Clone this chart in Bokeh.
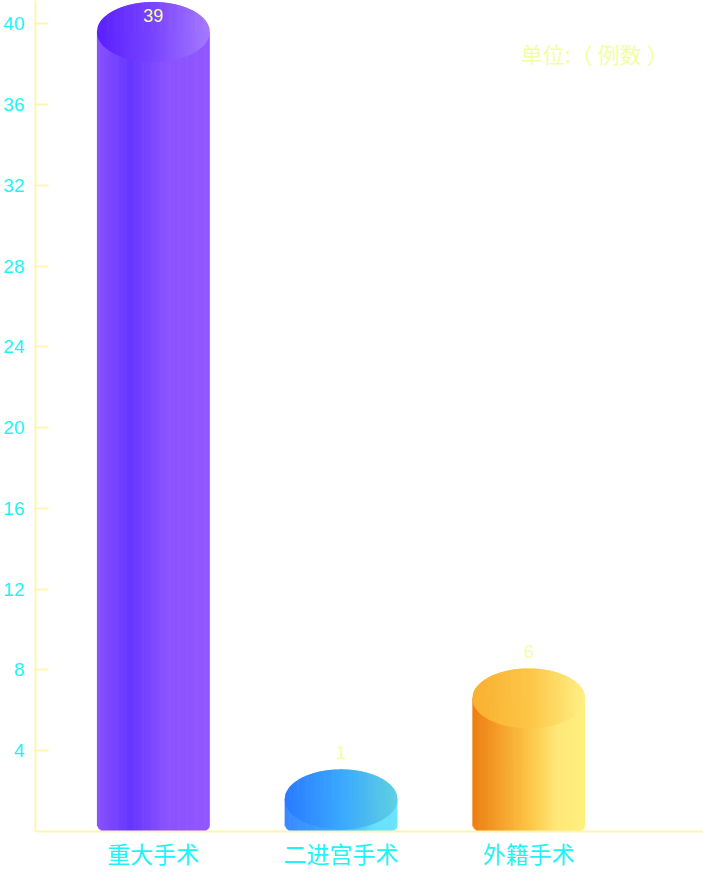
import numpy as np
from bokeh.plotting import figure
from bokeh.models import Range1d, FixedTicker, Label, ColumnDataSource
from bokeh.core.properties import value
from bokeh.embed import file_html
from bokeh.resources import INLINE

# ---------------- data ----------------
categories = ["重大手术", "二进宫手术", "外籍手术"]
counts = [39, 1, 6]
y_ticks = [4, 8, 12, 16, 20, 24, 28, 32, 36, 40]
unit_text = "单位:（ 例数 ）"

# ---------------- styles ----------------
body_stops = [
    [(0.0, "#8a52ff"), (0.3, "#6536ff"), (0.6, "#8a52ff"), (1.0, "#9257ff")],
    [(0.0, "#3a88ff"), (0.5, "#40b0ff"), (0.8, "#68e0ff"), (1.0, "#6ae4ff")],
    [(0.0, "#ec7d12"), (0.5, "#fdc545"), (0.75, "#ffe878"), (1.0, "#fff07c")],
]
top_stops = [
    [(0.0, "#5a20ff"), (0.5, "#7a44ff"), (1.0, "#a67aff")],
    [(0.0, "#2a7aff"), (0.5, "#3aa8ff"), (1.0, "#5fd0e0")],
    [(0.0, "#f9b030"), (0.5, "#fdc545"), (1.0, "#fff086")],
]
AXIS_COLOR = "#fff5b0"
TICK_LABEL_COLOR = "#1ff3f7"
VALUE_COLOR = "#f2ffa6"
UNIT_COLOR = "#f2ffa0"
CJK = "Noto Sans CJK SC"
NUM = "Liberation Sans"

W, H = 703, 872
LEFT = 34
FRAME_W = W - LEFT
FRAME_H = 832.0          # expected frame height (bottom axis takes the rest)
PX_X = 188.0
X_START = -(152.0 - LEFT) / PX_X
X_END = X_START + FRAME_W / PX_X
Y_END = 41.15
PX_Y = FRAME_H / Y_END

BAR_HALF_PX = 56.5
ELL_HALF_H_PX = 30.0
TOP_OFFSET_PX = 12.0
CORNER_PX = 8.0
N_STRIPS = 100
OVERLAP_PX = 0.7


def hex2rgb(h):
    h = h.lstrip("#")
    return np.array([int(h[i:i + 2], 16) for i in (0, 2, 4)], dtype=float)


def grad(stops, t):
    for (p0, c0), (p1, c1) in zip(stops[:-1], stops[1:]):
        if p0 <= t <= p1:
            f = (t - p0) / (p1 - p0) if p1 > p0 else 0
            c = hex2rgb(c0) * (1 - f) + hex2rgb(c1) * f
            return "#%02x%02x%02x" % tuple(int(round(v)) for v in c)
    return stops[-1][1]


p = figure(width=W, height=H, output_backend="svg", toolbar_location=None,
           x_range=Range1d(X_START, X_END), y_range=Range1d(0, Y_END),
           min_border_left=LEFT, min_border_right=0, min_border_top=0,
           min_border_bottom=0, background_fill_color="white",
           border_fill_color="white", outline_line_color=None)
p.grid.visible = False

hw = BAR_HALF_PX / PX_X
eh = ELL_HALF_H_PX / PX_Y
off = TOP_OFFSET_PX / PX_Y
ov = OVERLAP_PX / PX_X

q_left, q_right, q_bottom, q_top, q_col = [], [], [], [], []
e_xs, e_ys, e_col = [], [], []
for i, v in enumerate(counts):
    xc = float(i)
    top = v + off
    for j in range(N_STRIPS):
        u0, u1 = j / N_STRIPS, (j + 1) / N_STRIPS
        um = (u0 + u1) / 2
        x0 = xc - hw + u0 * 2 * hw
        x1 = xc - hw + u1 * 2 * hw
        x1e = x1 + (ov if j < N_STRIPS - 1 else 0)
        d = min(um, 1 - um) * 2 * BAR_HALF_PX
        raise_px = 0.0
        if d < CORNER_PX:
            raise_px = CORNER_PX - np.sqrt(CORNER_PX ** 2 - (CORNER_PX - d) ** 2)
        q_left.append(x0)
        q_right.append(x1e)
        q_bottom.append(raise_px / PX_Y)
        q_top.append(top)
        q_col.append(grad(body_stops[i], um))
        # top ellipse slice
        u1e = min(u1 + (ov / (2 * hw) if j < N_STRIPS - 1 else 0), 1.0)
        ts = np.linspace(u0, u1e, 4)
        xr = -1 + 2 * ts
        yr = np.sqrt(np.clip(1 - xr ** 2, 0, 1))
        xs = list(xc + xr * hw) + list((xc + xr * hw)[::-1])
        ys = list(top + yr * eh) + list((top - yr * eh)[::-1])
        e_xs.append(xs)
        e_ys.append(ys)
        e_col.append(grad(top_stops[i], um))

p.quad(left=q_left, right=q_right, bottom=q_bottom, top=q_top,
       fill_color=q_col, line_color=None)
p.patches(xs=e_xs, ys=e_ys, fill_color=e_col, line_color=None)

# value labels above the cylinders (kept inside the plot at the top)
label_y = np.minimum(np.array(counts, dtype=float) + off + 47.0 / PX_Y,
                     Y_END - 15.0 / PX_Y)
src = ColumnDataSource(dict(x=list(range(len(counts))), y=label_y,
                            t=[str(c) for c in counts]))
p.text(x="x", y="y", text="t", source=src, text_color=VALUE_COLOR,
       text_font=value(NUM), text_font_size="18px", text_align="center",
       text_baseline="middle")

# unit label
p.add_layout(Label(x=X_START + (594 - LEFT) / PX_X, y=(FRAME_H - 53) / PX_Y,
                   text=unit_text, text_color=UNIT_COLOR, text_font=CJK,
                   text_font_size="22px", text_align="center",
                   text_baseline="middle"))

# axes
yax = p.yaxis[0]
yax.ticker = FixedTicker(ticks=y_ticks)
yax.axis_line_color = AXIS_COLOR
yax.axis_line_width = 2
yax.major_tick_line_color = AXIS_COLOR
yax.major_tick_line_width = 2
yax.major_tick_in = 13
yax.major_tick_out = 0
yax.minor_tick_line_color = None
yax.major_label_text_color = TICK_LABEL_COLOR
yax.major_label_text_font = NUM
yax.major_label_text_font_size = "19px"
yax.major_label_standoff = 11

xax = p.xaxis[0]
xax.ticker = FixedTicker(ticks=list(range(len(categories))))
xax.major_label_overrides = {i: c for i, c in enumerate(categories)}
xax.axis_line_color = AXIS_COLOR
xax.axis_line_width = 2
xax.major_tick_line_color = None
xax.major_tick_in = 0
xax.major_tick_out = 0
xax.minor_tick_line_color = None
xax.major_label_text_color = TICK_LABEL_COLOR
xax.major_label_text_font = CJK
xax.major_label_text_font_size = "23px"
xax.major_label_standoff = 4

open("out.html", "w").write(file_html(p, INLINE))
